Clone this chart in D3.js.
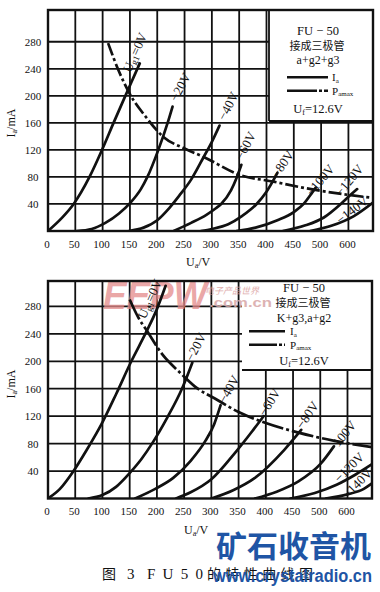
<!DOCTYPE html>
<html><head><meta charset="utf-8">
<script src="https://cdn.jsdelivr.net/npm/d3@7/dist/d3.min.js"></script>
<style>
body{margin:0;background:#fff;}
svg{display:block;}
</style>
</head><body>
<svg id="c" width="380" height="592"></svg>
<script>
// ---------------- DATA ----------------
const xTickValues = [0,50,100,150,200,250,300,350,400,450,500,550];
const xTickLabels = ["0","50","100","150","200","250","300","350","400","450","500","600"];
const yTickValues = [40,80,120,160,200,240,280];
const yTickLabels = ["40","80","120","160","200","240","280"];
const gridVoltages = ["0V","−20V","−40V","−60V","−80V","−100V","−120V","−140V"];

// Top chart: a+g2+g3  (Ua in V, Ia in mA)
const topUg0   = [[0,0],[25,19],[47,40],[76,80],[100,122],[120,160],[140,197],[157,228],[168,248]];
const topUg20  = [[53,0],[80,3],[105,12],[130,26],[151,42],[170,62],[182,80],[202,120],[219,160],[228,184]];
const topUg40  = [[148,0],[175,5],[200,16],[222,34],[240,52],[262,76],[284,108],[300,132],[314,156]];
const topUg60  = [[230,0],[262,12],[290,24],[308,34],[317,40],[335,60],[345,78],[354,98]];
const topUg80  = [[280,0],[300,3],[330,10],[355,22],[382,40],[400,58],[416,80],[420,86]];
const topUg100 = [[345,0],[380,5],[420,16],[450,28],[468,40],[482,55],[490,64]];
const topUg120 = [[430,0],[470,8],[505,20],[536,40],[552,52],[566,62]];
const topUg140 = [[480,0],[520,8],[560,22],[595,42]];
const topPamax = [[110,278],[130,236],[151,201],[180,168],[210,140],[250,122],[284,110],[351,83],[413,73],[474,63],[554,53],[595,49]];

// Bottom chart: K+g3, a+g2
const botUg0   = [[0,0],[22,14],[46,39],[72,72],[98,108],[125,152],[153,200],[180,242],[200,276],[216,310]];
const botUg20  = [[74,0],[100,5],[125,17],[151,38],[172,58],[191,80],[219,118],[246,160],[265,198]];
const botUg40  = [[160,0],[197,14],[230,30],[262,55],[289,84],[305,108],[317,136]];
const botUg60  = [[235,0],[262,9],[300,28],[345,68],[375,98],[396,120]];
const botUg80  = [[300,0],[340,12],[380,30],[434,71],[465,100]];
const botUg100 = [[380,0],[420,10],[460,25],[500,50],[525,76]];
const botUg120 = [[445,0],[490,8],[530,20],[565,35],[595,50]];
const botUg140 = [[510,0],[550,6],[580,14],[595,22]];
const botPamax = [[150,290],[165,265],[182,244],[210,210],[243,183],[270,163],[308,145],[350,126],[400,110],[460,96],[526,84],[595,75]];

// ---------------- LAYOUT ----------------
const svg = d3.select("#c");
const INK = "#111";
const SERIF = "'Liberation Serif','DejaVu Serif',serif";
const CJK = "'Noto Sans CJK SC','Noto Sans',sans-serif";

// label offsets (px from last point of each curve) and rotation
const topLabelLayout = [
  {dx:-5,dy:-11,a:-66},{dx:7.5,dy:-19.7,a:-62},{dx:8.5,dy:-19.6,a:-62},{dx:4,dy:-19,a:-62},
  {dx:5,dy:-9,a:-55},{dx:4.4,dy:-7.7,a:-50},{dx:-8,dy:-9,a:-50},{dx:-21,dy:7.4,a:-38}
];
const botLabelLayout = [
  {dx:-16,dy:13,a:-66},{dx:3.3,dy:-15.6,a:-62},{dx:8,dy:-16,a:-60},{dx:5.7,dy:-14,a:-58},
  {dx:6,dy:-15,a:-55},{dx:8,dy:-10,a:-50},{dx:-23,dy:3,a:-45},{dx:-15,dy:0,a:-45}
];

function drawChart(cfg){
  const g = svg.append("g");
  const x = d3.scaleLinear().domain([0,595]).range([cfg.left,cfg.right]);
  const y = d3.scaleLinear().domain([0,cfg.yMax]).range([cfg.bottom,cfg.top]);
  const clipId = "clip"+cfg.id;
  svg.append("clipPath").attr("id",clipId).append("rect")
    .attr("x",cfg.left).attr("y",cfg.top).attr("width",cfg.right-cfg.left).attr("height",cfg.bottom-cfg.top);

  // grid
  g.append("g").selectAll("line").data(xTickValues).join("line")
    .attr("x1",d=>x(d)).attr("x2",d=>x(d)).attr("y1",cfg.top).attr("y2",cfg.bottom)
    .attr("stroke",INK).attr("stroke-width",1.8);
  g.append("g").selectAll("line").data(yTickValues).join("line")
    .attr("x1",cfg.left).attr("x2",cfg.right).attr("y1",d=>y(d)).attr("y2",d=>y(d))
    .attr("stroke",INK).attr("stroke-width",1.8);

  if(cfg.pre) cfg.pre(g,x,y);

  // legend box (white, erasing grid)
  const lb = cfg.legendBox;
  g.append("rect").attr("x",lb.x).attr("y",cfg.top).attr("width",cfg.right-lb.x).attr("height",lb.y-cfg.top)
    .attr("fill","#fff");
  g.append("line").attr("x1",lb.x).attr("x2",cfg.right).attr("y1",lb.y).attr("y2",lb.y).attr("stroke",INK).attr("stroke-width",1.8);
  if(lb.leftBorder) g.append("line").attr("x1",lb.x).attr("x2",lb.x).attr("y1",cfg.top).attr("y2",lb.y).attr("stroke",INK).attr("stroke-width",1.8);

  // curves
  const line = d3.line().x(d=>x(d[0])).y(d=>y(d[1])).curve(d3.curveMonotoneX);
  const cg = g.append("g").attr("clip-path",`url(#${clipId})`);
  cg.selectAll("path.ia").data(cfg.curves).join("path")
    .attr("d",line).attr("fill","none").attr("stroke",INK).attr("stroke-width",2.7).attr("stroke-linecap","round");
  cg.append("path").datum(cfg.pamax).attr("d",line).attr("fill","none").attr("stroke",INK)
    .attr("stroke-width",2.7).attr("stroke-dasharray",cfg.dash);

  // curve labels
  cfg.curves.forEach((c,i)=>{
    const last = c[c.length-1];
    const L = cfg.labels[i];
    const t = g.append("text")
      .attr("transform",`translate(${x(last[0])+L.dx},${y(last[1])+L.dy}) rotate(${L.a})`)
      .attr("text-anchor","middle").attr("dy","0.35em")
      .attr("font-family",SERIF).attr("font-size",13).attr("fill",INK);
    if(i===0){
      t.append("tspan").text("U");
      t.append("tspan").attr("font-size",9).attr("dy",2).text("g1");
      t.append("tspan").attr("dy",-2).text("="+gridVoltages[0]);
    } else t.text(gridVoltages[i]);
  });

  // frame
  g.append("rect").attr("x",cfg.left).attr("y",cfg.top).attr("width",cfg.right-cfg.left).attr("height",cfg.bottom-cfg.top)
    .attr("fill","none").attr("stroke",INK).attr("stroke-width",2.4);

  // axes labels
  const ax = g.append("g").attr("transform",`translate(0,${cfg.bottom})`)
    .call(d3.axisBottom(x).tickValues(xTickValues).tickFormat((d,i)=>xTickLabels[i]).tickSize(0).tickPadding(9));
  ax.select(".domain").remove();
  ax.selectAll("text").attr("font-family",SERIF).attr("font-size",11).attr("fill",INK).attr("dx",-1.5);
  const ay = g.append("g").attr("transform",`translate(${cfg.left},0)`)
    .call(d3.axisLeft(y).tickValues(yTickValues).tickFormat((d,i)=>yTickLabels[i]).tickSize(0));
  ay.select(".domain").remove();
  ay.selectAll("text").attr("font-family",SERIF).attr("font-size",11).attr("fill",INK)
    .attr("x",33-cfg.left).attr("text-anchor","middle");

  // axis titles
  const xt = g.append("text").attr("x",cfg.xTitle[0]).attr("y",cfg.xTitle[1])
    .attr("font-family",SERIF).attr("font-size",12).attr("fill",INK);
  xt.append("tspan").text("U"); xt.append("tspan").attr("font-size",8).attr("dy",2).text("a"); xt.append("tspan").attr("dy",-2).text("/V");
  const yt = g.append("text").attr("transform",`translate(15,${cfg.yTitleY}) rotate(-90)`).attr("text-anchor","middle")
    .attr("font-family",SERIF).attr("font-size",12).attr("fill",INK);
  yt.append("tspan").text("I"); yt.append("tspan").attr("font-size",8).attr("dy",2).text("a"); yt.append("tspan").attr("dy",-2).text("/mA");

  // legend content
  const lg = cfg.legend;
  const txt = (s,xx,yy,fam,size,anchor)=>g.append("text").attr("x",xx).attr("y",yy).attr("text-anchor",anchor||"middle")
      .attr("font-family",fam).attr("font-size",size).attr("fill",INK).text(s);
  txt("FU − 50",lg.cx,lg.y[0],SERIF,12.5);
  txt("接成三极管",lg.cx-1,lg.y[1],CJK,11);
  txt(lg.conn,lg.cx,lg.y[2],SERIF,12);
  g.append("line").attr("x1",lg.lx[0]).attr("x2",lg.lx[1]).attr("y1",lg.y[3]).attr("y2",lg.y[3]).attr("stroke",INK).attr("stroke-width",2.6);
  g.append("line").attr("x1",lg.lx[0]).attr("x2",lg.lx[1]).attr("y1",lg.y[4]).attr("y2",lg.y[4]).attr("stroke",INK).attr("stroke-width",2.6).attr("stroke-dasharray",lg.dash);
  const ia = g.append("text").attr("x",lg.tx).attr("y",lg.y[3]+4).attr("font-family",SERIF).attr("font-size",11).attr("fill",INK);
  ia.append("tspan").text("I"); ia.append("tspan").attr("font-size",7).attr("dy",1.5).text("a");
  const pa = g.append("text").attr("x",lg.tx).attr("y",lg.y[4]+4).attr("font-family",SERIF).attr("font-size",11).attr("fill",INK);
  pa.append("tspan").text("P"); pa.append("tspan").attr("font-size",7).attr("dy",1.5).text("amax");
  const uf = g.append("text").attr("x",lg.cx).attr("y",lg.y[5]).attr("text-anchor","middle").attr("font-family",SERIF).attr("font-size",12.5).attr("fill",INK);
  uf.append("tspan").text("U"); uf.append("tspan").attr("font-size",8).attr("dy",2).text("f"); uf.append("tspan").attr("dy",-2).text("=12.6V");

  if(cfg.post) cfg.post(g,x,y);
}

drawChart({
  id:"top", left:48, right:373, top:10, bottom:231, yMax:327,
  curves:[topUg0,topUg20,topUg40,topUg60,topUg80,topUg100,topUg120,topUg140],
  pamax:topPamax, dash:"13,3,3,3", labels:topLabelLayout,
  legendBox:{x:269,y:121,leftBorder:true},
  legend:{cx:318,conn:"a+g2+g3",y:[35,49.5,64,77.3,90.7,112.5],lx:[287,328],tx:332,dash:"30,2,3,2"},
  xTitle:[186,266], yTitleY:123
});

drawChart({
  id:"bot", left:48, right:372, top:281, bottom:498.5, yMax:317,
  curves:[botUg0,botUg20,botUg40,botUg60,botUg80,botUg100,botUg120,botUg140],
  pamax:botPamax, dash:"22,3,3,3", labels:botLabelLayout,
  legendBox:{x:242,y:370,leftBorder:false},
  legend:{cx:304,conn:"K+g3,a+g2",y:[292,306.5,322,331.3,344.7,365],lx:[249,285],tx:290,dash:"28,2,3,2"},
  xTitle:[184,534], yTitleY:384,
  pre:(g)=>{
    g.append("text").attr("x",103).attr("y",309).attr("textLength",104).attr("lengthAdjust","spacingAndGlyphs")
      .attr("font-family","'Liberation Sans',Arial,sans-serif").attr("font-weight","bold").attr("font-style","italic")
      .attr("font-size",38).attr("fill","#e48a8a").attr("opacity",0.75).text("EEPW");
  },
  post:(g)=>{
    g.append("text").attr("x",205).attr("y",294).attr("textLength",54).attr("lengthAdjust","spacingAndGlyphs")
      .attr("font-family",CJK).attr("font-size",9).attr("font-style","italic").attr("fill","#d99a9a").attr("opacity",0.8).text("电子产品世界");
    g.append("text").attr("x",209).attr("y",307).attr("textLength",63).attr("lengthAdjust","spacingAndGlyphs")
      .attr("font-family","'Liberation Sans',Arial,sans-serif").attr("font-weight","bold").attr("font-size",13)
      .attr("fill","#d8a6a6").attr("opacity",0.85).text(".com.cn");
  }
});

// caption
const cap = svg.append("g").attr("font-family",SERIF).attr("fill",INK);
cap.append("text").attr("x",102).attr("y",579).attr("font-family",CJK).attr("font-size",14).text("图");
cap.append("text").attr("x",127).attr("y",579).attr("font-size",15).text("3");
cap.append("text").attr("x",147).attr("y",579).attr("font-size",15).attr("textLength",56).attr("lengthAdjust","spacing").text("FU50");
cap.append("text").attr("x",207).attr("y",579).attr("font-family",CJK).attr("font-size",14).attr("textLength",106).attr("lengthAdjust","spacing").text("的特性曲线图");

// watermark
svg.append("text").attr("x",216).attr("y",557).attr("textLength",155).attr("lengthAdjust","spacingAndGlyphs")
  .attr("font-family",CJK).attr("font-weight","bold").attr("font-size",30).attr("fill","#1f55a5").text("矿石收音机");
svg.append("text").attr("x",213).attr("y",582).attr("textLength",159).attr("lengthAdjust","spacingAndGlyphs")
  .attr("font-family","'Liberation Sans',Arial,sans-serif").attr("font-weight","bold").attr("font-size",18).attr("fill","#1f55a5").text("www.crystalradio.cn");
</script>
</body></html>
